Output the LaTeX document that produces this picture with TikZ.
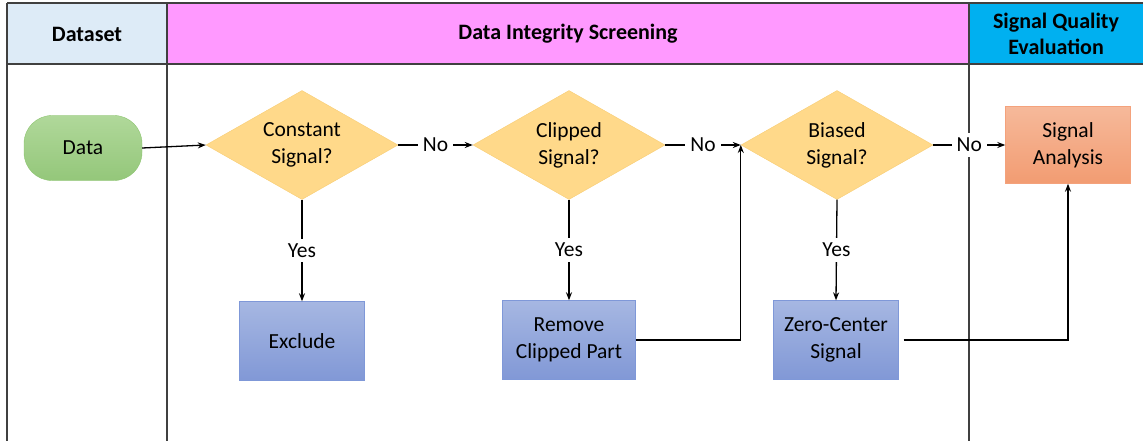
\documentclass[tikz,border=0pt]{standalone}
\usepackage{fontspec}
\setmainfont{Carlito}
\usetikzlibrary{shapes.geometric,arrows.meta}
\definecolor{lineg}{HTML}{404040}
\definecolor{hdrA}{HTML}{DDEBF7}
\definecolor{hdrB}{HTML}{FF99FF}
\definecolor{hdrC}{HTML}{00B0F0}
\definecolor{diaF}{HTML}{FFD98A}
\definecolor{diaD}{HTML}{F8CD74}
\definecolor{blT}{HTML}{A6B7E2}
\definecolor{blB}{HTML}{8198D6}
\definecolor{blD}{HTML}{7F98D8}
\definecolor{grT}{HTML}{B0D89A}
\definecolor{grB}{HTML}{94C77A}
\definecolor{grD}{HTML}{8CC46F}
\definecolor{orT}{HTML}{F6B99A}
\definecolor{orB}{HTML}{F29C72}
\definecolor{orD}{HTML}{F4A27C}
\begin{document}
\begin{tikzpicture}[x=1pt,y=-1pt,
  font=\fontsize{21.5}{27}\selectfont,
  lane/.style={draw=lineg, line width=1.4pt},
  hdr/.style={font=\fontsize{22}{26}\selectfont\bfseries, align=center},
  decision/.style={diamond, draw=diaD, fill=diaF, inner sep=0pt, minimum width=192pt, minimum height=109pt, aspect=1.76, align=center},
  procbox/.style={rectangle, draw=blD, top color=blT, bottom color=blB, minimum width=125pt, minimum height=79pt, align=center, inner sep=0pt},
  startnode/.style={rectangle, rounded corners=28pt, draw=grD, top color=grT, bottom color=grB, minimum width=118pt, minimum height=65pt, inner sep=0pt},
  endbox/.style={rectangle, draw=orD, top color=orT, bottom color=orB, minimum width=125pt, minimum height=77pt, align=center, inner sep=0pt},
  lbl/.style={fill=white, inner sep=5pt},
  conn/.style={draw=black, line width=1.3pt, -{Stealth[length=8pt,width=6pt]}}
]
\useasboundingbox (0,0) rectangle (1143,441);
% header fills
\fill[hdrA] (7,3) rectangle (167,64);
\fill[hdrB] (167,3) rectangle (969,64);
\fill[hdrC] (969,3) rectangle (1143,64);
% lane lines
\draw[lane] (7,3) -- (1143,3);
\draw[lane] (7,64) -- (1143,64);
\draw[lane] (7,3) -- (7,441);
\draw[lane] (167,3) -- (167,441);
\draw[lane] (969,3) -- (969,441);
% header texts
\node[hdr] (h1) at (87,34) {Dataset};
\node[hdr] (h2) at (568,34) {Data Integrity Screening};
\node[hdr] (h3) at (1056,34) {Signal Quality\\Evaluation};
% nodes
\node[startnode] (data) at (83,148) {Data};
\node[decision] (con) at (302,145) {Constant\\Signal?};
\node[decision] (clp) at (569,145) {Clipped\\Signal?};
\node[decision] (bia) at (837,145) {Biased\\Signal?};
\node[endbox] (sa) at (1068,145) {Signal\\Analysis};
\node[procbox] (exc) at (302,341) {Exclude};
\node[procbox, minimum width=133pt] (rem) at (569,340) {Remove\\Clipped Part};
\node[procbox] (zc) at (836,340) {Zero-Center\\Signal};
% connectors
\draw[conn] (data.east) -- (con.west);
\draw[conn] (con.east) -- node[lbl] {No} (clp.west);
\draw[conn] (clp.east) -- node[lbl] {No} (bia.west);
\draw[conn] (bia.east) -- node[lbl] {No} (sa.west);
\draw[conn] (con.south) -- node[lbl] {Yes} (exc.north);
\draw[conn] (clp.south) -- node[lbl] {Yes} (rem.north);
\draw[conn] (bia.south) -- node[lbl] {Yes} (zc.north);
\draw[conn] (rem.east) -| (bia.west);
\draw[conn, shorten <=5pt] (zc.east) -| (sa.south);
\end{tikzpicture}
\end{document}
